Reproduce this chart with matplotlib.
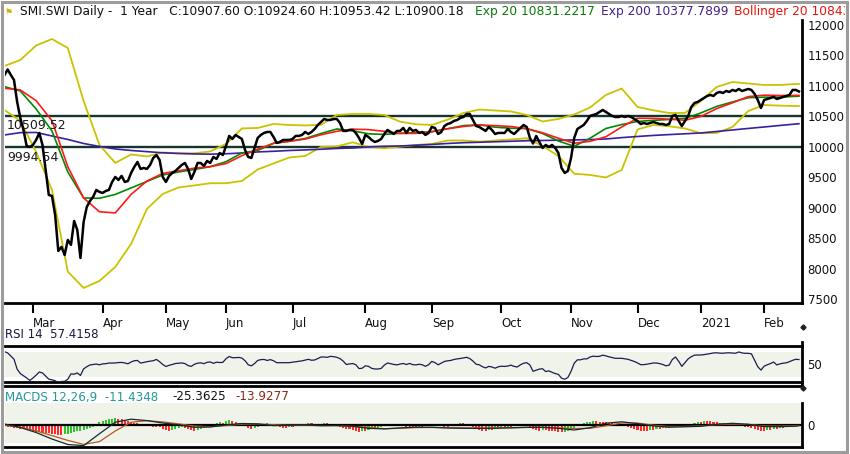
import numpy as np
import pandas as pd
import matplotlib
matplotlib.use('Agg')
import matplotlib.pyplot as plt
from matplotlib.lines import Line2D
from matplotlib.patches import Rectangle

# ---------------- data ----------------
holidays = ['2020-04-10', '2020-04-13', '2020-05-01', '2020-05-21', '2020-06-01',
            '2020-12-24', '2020-12-25', '2020-12-31', '2021-01-01']
month_labels = ['Mar', 'Apr', 'May', 'Jun', 'Jul', 'Aug', 'Sep', 'Oct', 'Nov', 'Dec', '2021', 'Feb']

close = [
    11179, 11269, 11179, 11097, 10736, 10473, 10276, 10013, 9997, 10030,
    10112, 10227, 10030, 9619, 9209, 9192, 8880, 8289, 8355, 8223,
    8470, 8388, 8782, 8634, 8174, 8765, 9012, 9110, 9176, 9291,
    9258, 9242, 9274, 9291, 9422, 9504, 9455, 9521, 9422, 9438,
    9570, 9668, 9750, 9636, 9652, 9636, 9701, 9816, 9865, 9783,
    9504, 9422, 9521, 9570, 9603, 9652, 9701, 9734, 9636, 9471,
    9586, 9734, 9734, 9685, 9767, 9734, 9833, 9800, 9898, 9865,
    10013, 10178, 10128, 10194, 10161, 10128, 9948, 9833, 9816, 9980,
    10145, 10194, 10227, 10243, 10243, 10161, 10063, 10079, 10112, 10112,
    10112, 10128, 10178, 10178, 10194, 10243, 10210, 10243, 10292, 10358,
    10407, 10456, 10440, 10440, 10456, 10456, 10391, 10260, 10260, 10276,
    10276, 10227, 10145, 10046, 10194, 10161, 10112, 10079, 10096, 10128,
    10210, 10276, 10243, 10210, 10260, 10260, 10309, 10227, 10309, 10260,
    10276, 10227, 10243, 10194, 10227, 10325, 10309, 10210, 10243, 10341,
    10374, 10391, 10424, 10440, 10473, 10489, 10539, 10539, 10440, 10341,
    10325, 10292, 10260, 10325, 10276, 10210, 10227, 10227, 10227, 10292,
    10243, 10210, 10260, 10309, 10358, 10325, 10145, 10054, 10177, 10079,
    9980, 10030, 9997, 10030, 9980, 9898, 9652, 9570, 9603, 9816,
    10145, 10292, 10325, 10358, 10424, 10506, 10522, 10539, 10571, 10604,
    10571, 10539, 10506, 10489, 10489, 10506, 10489, 10506, 10489, 10456,
    10424, 10374, 10391, 10374, 10391, 10407, 10391, 10374, 10374, 10358,
    10374, 10506, 10522, 10424, 10341, 10424, 10506, 10654, 10719, 10736,
    10768, 10801, 10834, 10851, 10834, 10883, 10900, 10883, 10916, 10900,
    10933, 10916, 10949, 10916, 10933, 10949, 10933, 10867, 10768, 10637,
    10768, 10785, 10801, 10818, 10785, 10801, 10818, 10834, 10851, 10933,
    10933, 10908]

# smooth indicators, read every 5th session (last = final session)
ema20 = [10987, 10916, 10621, 10259, 9586, 9159, 9154, 9217, 9324, 9430, 9537, 9586, 9627,
         9673, 9755, 9898, 9939, 10057, 10090, 10136, 10218, 10292, 10263, 10213, 10202, 10222,
         10232, 10248, 10296, 10347, 10361, 10322, 10304, 10299, 10218, 10095, 10008, 10140,
         10300, 10365, 10415, 10434, 10448, 10466, 10555, 10662, 10736, 10806, 10814, 10815,
         10828, 10831]
sma20 = [10961, 10933, 10757, 10429, 9673, 9159, 8933, 8913, 9217, 9438, 9562, 9606, 9649,
         9673, 9724, 9854, 9961, 10057, 10090, 10126, 10197, 10254, 10289, 10282, 10253, 10218,
         10220, 10246, 10296, 10333, 10358, 10347, 10333, 10297, 10230, 10141, 10057, 10090,
         10164, 10325, 10468, 10466, 10453, 10435, 10498, 10626, 10722, 10824, 10847, 10842,
         10843, 10845]
bb_upper = [11327, 11425, 11663, 11770, 11622, 10752, 10030, 9734, 9874, 9841, 9906, 9893, 9893,
            9923, 10046, 10301, 10309, 10374, 10358, 10350, 10361, 10522, 10539, 10539, 10522,
            10412, 10370, 10358, 10445, 10555, 10611, 10596, 10580, 10522, 10415, 10457, 10530,
            10645, 10851, 10957, 10654, 10599, 10555, 10555, 10752, 10982, 11064, 11039, 11015,
            11015, 11031, 11031]
bb_lower = [10604, 10424, 9915, 9291, 7950, 7681, 7796, 8026, 8404, 8979, 9225, 9332, 9365,
            9401, 9401, 9438, 9627, 9726, 9824, 9849, 9997, 10005, 10074, 9997, 9975, 10002,
            10030, 10046, 10103, 10103, 10084, 10103, 10120, 10140, 10013, 9849, 9558, 9537,
            9496, 9619, 10284, 10358, 10337, 10301, 10222, 10227, 10325, 10588, 10686, 10675,
            10670, 10670]
ema200 = [10194, 10232, 10235, 10177, 10120, 10054, 10005, 9964, 9939, 9920, 9901, 9890, 9882,
          9879, 9885, 9898, 9915, 9926, 9939, 9948, 9959, 9972, 9980, 9997, 10008, 10013,
          10025, 10038, 10054, 10067, 10074, 10082, 10090, 10099, 10103, 10108, 10112, 10118,
          10128, 10150, 10169, 10186, 10200, 10213, 10227, 10251, 10276, 10301, 10325, 10350,
          10374, 10378]
levels = [10509.52, 9994.54]

rsi = [70, 68, 63, 58, 42, 35, 31.5, 28, 24, 28,
       32.5, 37.5, 36, 31, 26, 25, 23.5, 20.5, 22.5, 22.5,
       26, 34.5, 34, 36, 32, 42.5, 46, 48.7, 49.5, 50.3,
       49, 50.5, 50.8, 51.8, 51.8, 52, 52.6, 52.8, 52, 50.6,
       53.5, 55.5, 56, 51.8, 52.8, 54, 54.8, 55.6, 57.6, 54,
       49.5, 46.3, 48.2, 49.5, 51.1, 51.6, 52, 51, 47.8, 46.5,
       49.8, 51.6, 52.2, 50.8, 53, 53.6, 51.4, 53.2, 52.6, 53,
       58.8, 62.3, 60.4, 60.4, 60.8, 59.8, 55.6, 49.1, 47.3, 51,
       56, 57.3, 57.6, 56, 57.3, 55.5, 52.4, 52.4, 52.4, 52.4,
       52.4, 53.3, 53.8, 54.7, 55.3, 56.5, 57.8, 56.3, 56.7, 59,
       61.5, 61.5, 61, 62.6, 62, 61, 58.9, 55, 49.5, 50.4,
       51, 49.2, 43, 43.5, 47.4, 46.6, 43.4, 42.3, 42.3, 43.2,
       48.5, 51.9, 50.8, 49.6, 48.9, 50.2, 51.1, 49.5, 51.2, 49.2,
       48.9, 49.9, 49, 46.6, 49.2, 54.5, 52.5, 49, 51.8, 54.4,
       55.4, 56, 57.5, 58.5, 59.1, 60, 61, 59, 55, 50,
       49, 46, 44, 46.5, 45.5, 43.6, 45.8, 46.8, 46.4, 47,
       48.5, 46.5, 45.5, 49, 51.5, 52.4, 48.7, 38.6, 40.4, 42.2,
       42.7, 38.2, 39.3, 37, 35, 33.7, 27.6, 25.9, 28.7, 38.5,
       51.5, 57, 57, 58.5, 58.5, 61.5, 62.8, 62.3, 62.6, 64.4,
       63.3, 61.8, 60.6, 59.4, 59.4, 59.4, 58.6, 57.8, 56.1, 54.3,
       52, 49.2, 49.3, 50, 50.9, 51.9, 51.9, 50.9, 49.5, 47.4,
       48.5, 57.5, 61.5, 54.7, 46.5, 52.4, 58.5, 62, 64.5, 64.7,
       64.7, 65.3, 66.1, 67, 68, 68.2, 67.7, 67.5, 68.1, 68.2,
       67.8, 67.5, 69.6, 68, 67.4, 67.4, 66.5, 56.3, 46, 40.5,
       46.8, 49, 51, 53.5, 48.8, 50.5, 51.6, 52.2, 54, 56.2,
       57.8, 57.4158]

macd_line = [33, -83, -249, -465, -647, -684, -290, 93, 193, 146, 66, 7, -76, -66, 0, 50, 37,
             -20, -7, 0, -23, -13, -43, -110, -129, -96, -73, -76, -100, -110, -110, -106, -93,
             -76, -76, -110, -166, -90, 60, 106, 46, -30, -73, -60, -43, 23, 56, 23, -53, -55,
             -40, -25.3625]
macd_signal = [0, -76, -196, -352, -511, -644, -551, -199, 93, 143, 103, 37, -33, -56, -20, 27,
               30, 10, -10, -10, -17, -27, -43, -83, -123, -110, -86, -83, -90, -93, -100, -100,
               -93, -83, -80, -93, -116, -110, -27, 66, 66, -7, -50, -46, -30, 10, 27, 20, -30,
               -35, -20, -13.9277]
macd_hist = [
    -33, -50, -66, -83, -99, -132, -149, -165, -198, -215,
    -231, -231, -264, -281, -281, -297, -314, -330, -330, -314,
    -297, -264, -231, -215, -198, -165, -132, -99, -50, 33,
    83, 132, 165, 198, 215, 231, 215, 198, 165, 132,
    99, 66, 50, 33, 16, -16, -33, -50, -66, -66,
    -132, -166, -198, -166, -132, -100, -66, -100, -132, -166,
    -198, -166, -132, -100, -66, -32, 32, 66, 100, 66,
    132, 166, 132, 100, 66, 32, -32, -100, -132, -100,
    -66, 20, 32, 66, 32, -20, -32, -66, -100, -100,
    -66, -66, -32, 20, 32, 32, 66, 66, 32, -20,
    32, 66, 66, 32, -20, -32, -66, -100, -132, -132,
    -166, -198, -232, -198, -198, -166, -132, -132, -100, -66,
    -32, 20, 32, 32, -20, -32, -32, -66, -66, -100,
    -100, -66, -66, -32, -32, 20, 32, -20, -32, -66,
    -66, -32, 20, 32, 66, 66, 32, -20, -66, -132,
    -166, -198, -198, -166, -166, -132, -132, -100, -100, -66,
    -66, -32, 20, 32, 32, -20, -66, -132, -166, -198,
    -166, -166, -198, -198, -215, -232, -248, -232, -215, -166,
    -100, -32, 32, 66, 100, 116, 132, 132, 116, 100,
    83, 66, 50, 33, 16, -20, -32, -66, -100, -132,
    -166, -198, -198, -198, -166, -166, -132, -132, -100, -100,
    -100, -66, -32, -66, -66, -32, 20, 32, 66, 100,
    100, 132, 132, 132, 100, 100, 66, 66, 32, 32,
    20, -20, -32, -32, -66, -66, -100, -132, -166, -198,
    -198, -166, -166, -132, -132, -100, -100, -66, -66, -32,
    -32, -11.4348]

# ---------------- layout helpers ----------------
W, H = 850, 454
fig = plt.figure(figsize=(W / 100, H / 100), dpi=100)
fig.patch.set_facecolor('white')


def fx(px):
    return px / W


def fy(py):
    return 1 - py / H


n = len(close)
x = np.arange(n)
sx = list(range(0, n - 1, 5)) + [n - 1]

dates = pd.bdate_range('2020-02-18', '2021-02-16')
dates = dates[~dates.isin(pd.to_datetime(holidays))]
per = list(dates.to_period('M'))[:n]
month_starts = [i for i in range(1, len(per)) if per[i] != per[i - 1]][:len(month_labels)]

XL = (0.16, 251.97)
LEFT, RIGHT = 5, 802

# ---------------- main price panel ----------------
ax = fig.add_axes([fx(LEFT), fy(303), fx(RIGHT - LEFT), 283 / H])
ax.set_xlim(*XL)
ax.set_ylim(7434, 12082)
for s in ['top', 'left']:
    ax.spines[s].set_visible(False)
for s in ['bottom', 'right']:
    ax.spines[s].set_linewidth(2)
    ax.spines[s].set_color('black')

yellow = '#c9c300'
ax.plot(sx, bb_upper, color=yellow, lw=1.3, zorder=2)
ax.plot(sx, bb_lower, color=yellow, lw=1.3, zorder=2)
ax.plot(sx, ema200, color='#3b1fa0', lw=1.2, zorder=3)
ax.plot(sx, ema20, color='#008a00', lw=1.2, zorder=4)
ax.plot(sx, sma20, color='#ff1a1a', lw=1.2, zorder=4)
for lv in levels:
    ax.axhline(lv, color='#17352f', lw=1.7, zorder=1)
    ax.annotate(f'{lv:.2f}', xy=(0, lv), xycoords=('axes fraction', 'data'),
                xytext=(1.5, -2.5), textcoords='offset points', va='top', ha='left',
                fontsize=9, color='#1a1a1a', zorder=6)
ax.plot(x, close, color='black', lw=1.8, zorder=5, solid_joinstyle='round')

ax.yaxis.tick_right()
ax.set_yticks(np.arange(7500, 12001, 500))
ax.tick_params(axis='y', length=0, pad=4, labelsize=8.5, labelcolor='#111111')
ax.set_xticks(month_starts)
ax.set_xticklabels(month_labels)
ax.tick_params(axis='x', direction='out', length=7, width=1.5, pad=3, labelsize=8.5,
               labelcolor='#111111')
for lbl in ax.get_xticklabels():
    lbl.set_ha('left')

# ---------------- RSI panel ----------------
ax2 = fig.add_axes([fx(LEFT), fy(382), fx(RIGHT - LEFT), 36 / H])
ax2.set_xlim(*XL)
ax2.set_ylim(21.5, 79.1)
ax2.axhspan(30, 70, color='#eff3ea', lw=0, zorder=0)
ax2.plot(x, rsi, color='#1c1c4e', lw=0.9, zorder=3)
for s in ['left', 'right']:
    ax2.spines[s].set_visible(False)
for s in ['top', 'bottom']:
    ax2.spines[s].set_linewidth(2)
ax2.set_xticks([])
ax2.yaxis.tick_right()
ax2.set_yticks([50])
ax2.tick_params(axis='y', length=0, pad=4, labelsize=8.5, labelcolor='#111111')

# ---------------- MACD panel ----------------
ax3 = fig.add_axes([fx(LEFT), fy(447), fx(RIGHT - LEFT), 44 / H])
ax3.set_xlim(*XL)
ax3.set_ylim(-730, 730)
ax3.axhspan(-598, 730, color='#eff3ea', lw=0, zorder=0)
bar_cols = ['#ff2a2a'] + ['#2ec62e' if macd_hist[i] > macd_hist[i - 1] else '#ff2a2a'
                          for i in range(1, n)]
ax3.bar(x, macd_hist, width=0.65, color=bar_cols, lw=0, zorder=2)
ax3.axhline(0, color='black', lw=1.6, zorder=3)
ax3.plot(sx, macd_signal, color='#b8581e', lw=0.9, zorder=4)
ax3.plot(sx, macd_line, color='#102a30', lw=0.9, zorder=4)
for s in ['left', 'top']:
    ax3.spines[s].set_visible(False)
for s in ['bottom', 'right']:
    ax3.spines[s].set_linewidth(2)
ax3.set_xticks([])
ax3.yaxis.tick_right()
ax3.set_yticks([0])
ax3.tick_params(axis='y', length=0, pad=4, labelsize=8.5, labelcolor='#111111')

# ---------------- frame decorations ----------------
def hline(y, x0, x1, lw=2, c='black'):
    fig.add_artist(Line2D([fx(x0), fx(x1)], [fy(y), fy(y)], color=c, lw=lw))


def vline(xp, y0, y1, lw=2, c='black'):
    fig.add_artist(Line2D([fx(xp), fx(xp)], [fy(y0), fy(y1)], color=c, lw=lw))


vline(RIGHT, 342, 386)
hline(385.7, LEFT, RIGHT)
for yy in (327, 388):
    fig.add_artist(Line2D([fx(803)], [fy(yy)], marker='D', ms=2.6, color='#222222'))

fig.add_artist(Rectangle((fx(1.5), fy(451.5)), fx(845), 450 / H, fill=False,
                         edgecolor='#9c9c9c', lw=2.2, zorder=10))

# ---------------- texts ----------------
ty = fy(12)
fig.text(fx(4), ty, '\u2691', fontsize=6.5, color='#c8b400', va='center', ha='left')
fig.text(fx(20), ty, 'SMI.SWI Daily -  1 Year   C:10907.60 O:10924.60 H:10953.42 L:10900.18',
         fontsize=8.8, color='#111111', va='center', ha='left')
parts = [(475, 'Exp 20 10831.2217', '#0a7a0a'),
         (601, 'Exp 200 10377.7899', '#45208c'),
         (734, 'Bollinger 20 10843.5210', '#e8160c')]
clip_rect = Rectangle((0, 0), fx(845), 1, transform=fig.transFigure, visible=False)
fig.add_artist(clip_rect)
for px_, txt, col in parts:
    t = fig.text(fx(px_), ty, txt, fontsize=8.8, color=col, va='center', ha='left')
    t.set_clip_path(clip_rect)

fig.text(fx(5), fy(335), 'RSI 14  57.4158', fontsize=8.5, color='#1a1a40', va='center')
fig.text(fx(5), fy(397), 'MACDS 12,26,9  -11.4348', fontsize=8.6, color='#229999', va='center')
fig.text(fx(172), fy(397), '-25.3625', fontsize=8.6, color='#111111', va='center')
fig.text(fx(235), fy(397), '-13.9277', fontsize=8.6, color='#8b2a12', va='center')

fig.savefig('out.png', dpi=100, facecolor='white')
